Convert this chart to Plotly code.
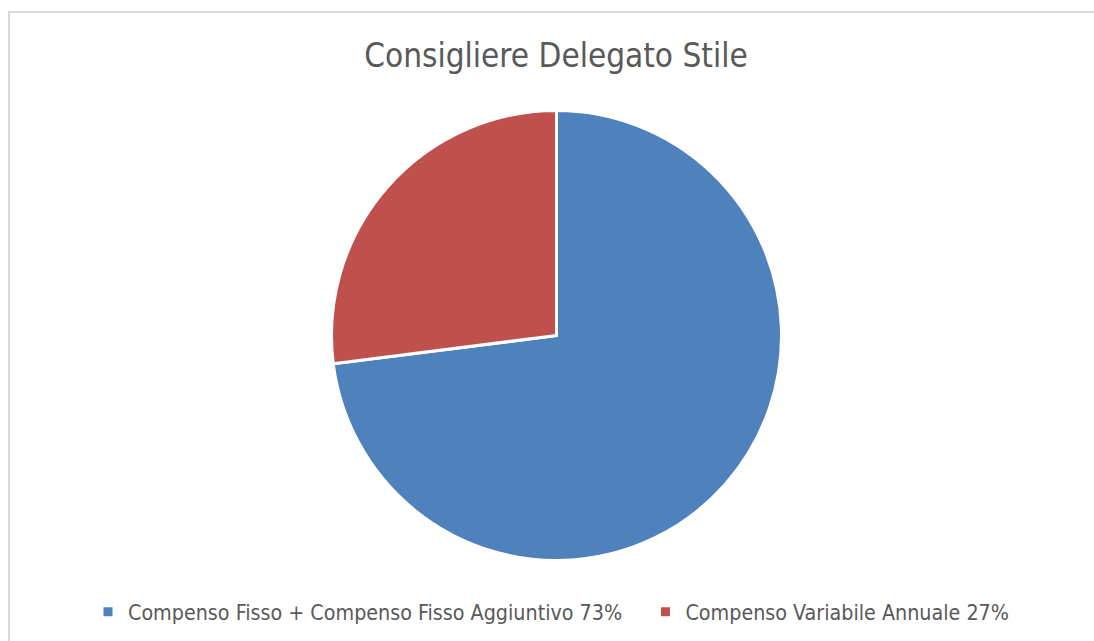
import plotly.graph_objects as go

labels = ["Compenso Fisso + Compenso Fisso Aggiuntivo 73%", "Compenso Variabile Annuale 27%"]
values = [73, 27]
colors = ["#4F81BD", "#C0504D"]
title_text = "Consigliere Delegato Stile"

W, H = 1094, 641
cx, cy, r = 556.5, 335.5, 225

# trailing non-breaking spaces widen the gap between legend entries
legend_pad = ["\u00a0\u00a0\u00a0", ""]

fig = go.Figure(go.Pie(
    labels=[l + p for l, p in zip(labels, legend_pad)], values=values, sort=False,
    direction="clockwise", rotation=0,
    marker=dict(colors=colors, line=dict(color="white", width=3)),
    textinfo="none", hoverinfo="label+percent",
    domain=dict(x=[(cx - r) / W, (cx + r) / W], y=[1 - (cy + r) / H, 1 - (cy - r) / H]),
))

font_family = "Liberation Sans Narrow, Arial Narrow, DejaVu Sans Condensed, sans-serif"

fig.update_layout(
    width=W, height=H,
    margin=dict(l=0, r=0, t=0, b=0),
    paper_bgcolor="white", plot_bgcolor="white",
    title=dict(text=title_text, x=556 / W, xanchor="center", y=1 - 55 / H, yanchor="middle",
               yref="container", xref="container",
               font=dict(family=font_family, size=33, color="#595959")),
    legend=dict(orientation="h", x=88 / W, xanchor="left", y=1 - 612 / H, yanchor="middle",
                font=dict(family=font_family, size=21.3, color="#595959"),
                itemwidth=30, traceorder="normal", bgcolor="rgba(0,0,0,0)"),
    shapes=[dict(type="rect", xref="paper", yref="paper",
                 x0=9 / W, x1=1.01, y0=-0.01, y1=1 - 12 / H,
                 line=dict(color="#D9D9D9", width=2), fillcolor="rgba(0,0,0,0)", layer="below")],
)

fig.write_html("out.html", config={"displayModeBar": False},
               post_script="document.body.style.margin='0';document.body.style.overflow='hidden';")
